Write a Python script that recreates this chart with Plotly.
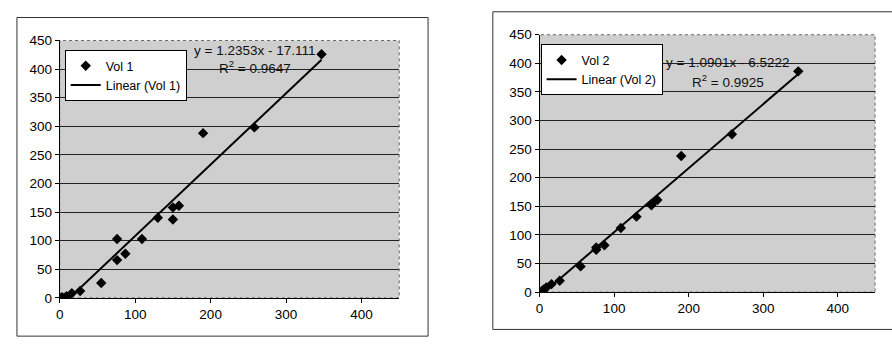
import numpy as np
import plotly.graph_objects as go

# ---- data ----
x_vals = [0, 3, 6, 9, 16, 27, 55, 76, 76, 87, 109, 130, 150, 150, 158, 190, 258, 347]
vol1 = [0, 1, 0, 3, 8, 12, 26, 66, 103, 77, 103, 140, 137, 158, 161, 288, 298, 426]
vol2 = [0, 2, 5, 8, 14, 20, 45, 74, 78, 82, 112, 132, 154, 152, 161, 238, 276, 386]
eq1 = ["y = 1.2353x - 17.111", "R<sup>2</sup> = 0.9647"]
eq2 = ["y = 1.0901x - 6.5222", "R<sup>2</sup> = 0.9925"]
series_names = ["Vol 1", "Vol 2"]
axis_max = 450

W, H = 892, 347
def px(x):
    return x / W
def py(y):
    return 1 - y / H

FONT = "Arial, Liberation Sans, sans-serif"
fig = go.Figure()

panels = [
    dict(vals=vol1, name=series_names[0], eq=eq1, xa="x", ya="y", leg="legend",
         dom=(56, 397, 35, 304), box=(13, 11, 426, 344), eqx=252, eqy=(45, 63),
         legpos=(61, 45)),
    dict(vals=vol2, name=series_names[1], eq=eq2, xa="x2", ya="y2", leg="legend2",
         dom=(538, 875, 29, 298), box=(491, 5, 898, 337), eqx=727, eqy=(58, 77),
         legpos=(539, 39)),
]

layout_axes = {}
shapes = []
annotations = []
legends = {}
for i, p in enumerate(panels):
    xs = np.array(x_vals, dtype=float)
    ys = np.array(p["vals"], dtype=float)
    k, b = np.polyfit(xs, ys, 1)
    xl = np.array([xs.min(), xs.max()])
    fig.add_trace(go.Scatter(
        x=x_vals, y=p["vals"], mode="markers", name=p["name"],
        marker=dict(symbol="diamond", size=8, color="black"),
        xaxis=p["xa"], yaxis=p["ya"], legend=p["leg"]))
    fig.add_trace(go.Scatter(
        x=xl, y=k * xl + b, mode="lines", name=f"Linear ({p['name']})",
        line=dict(color="black", width=2),
        xaxis=p["xa"], yaxis=p["ya"], legend=p["leg"]))
    x0, x1, y0, y1 = p["dom"]
    suffix = "" if i == 0 else "2"
    layout_axes["xaxis" + suffix] = dict(
        domain=[px(x0), px(x1)], range=[0, axis_max], dtick=100,
        anchor="y" + suffix, showgrid=False, zeroline=False,
        showline=True, linecolor="black", linewidth=1,
        ticks="outside", ticklen=4, tickcolor="black",
        tickfont=dict(family=FONT, size=13.5, color="black"))
    layout_axes["yaxis" + suffix] = dict(
        domain=[py(y1), py(y0)], range=[0, axis_max], dtick=50,
        anchor="x" + suffix, showgrid=True, gridcolor="#222222", gridwidth=1,
        zeroline=False, showline=True, linecolor="black", linewidth=1,
        ticks="outside", ticklen=4, tickcolor="black",
        tickfont=dict(family=FONT, size=13.5, color="black"))
    # plot-area background + dotted border
    shapes.append(dict(type="rect", xref="paper", yref="paper", layer="below",
                       x0=px(x0), x1=px(x1), y0=py(y1), y1=py(y0),
                       fillcolor="#cfcfcf", line=dict(color="#666666", width=1, dash="dot")))
    # chart outer border
    bx0, by0, bx1, by1 = p["box"]
    shapes.append(dict(type="rect", xref="paper", yref="paper", layer="below",
                       x0=px(bx0), x1=px(bx1), y0=py(by1), y1=py(by0),
                       fillcolor="rgba(0,0,0,0)", line=dict(color="#333333", width=1)))
    for t, yy in zip(p["eq"], p["eqy"]):
        annotations.append(dict(text=t, xref="paper", yref="paper", x=px(p["eqx"]), y=py(yy),
                                xanchor="center", yanchor="middle", showarrow=False,
                                font=dict(family=FONT, size=13.5, color="#111111")))
    lx, ly = p["legpos"]
    legends[p["leg"]] = dict(x=px(lx), y=py(ly), xanchor="left", yanchor="top",
                             bgcolor="white", bordercolor="black", borderwidth=1,
                             font=dict(family=FONT, size=12.5, color="black"),
                             tracegroupgap=0)

fig.update_layout(
    width=W, height=H, margin=dict(l=0, r=0, t=0, b=0),
    paper_bgcolor="white", plot_bgcolor="rgba(0,0,0,0)",
    showlegend=True, shapes=shapes, annotations=annotations,
    **layout_axes, **legends)

fig.write_html("out.html", config={"displayModeBar": False},
               post_script="document.body.style.margin='0';document.body.style.overflow='hidden';")
